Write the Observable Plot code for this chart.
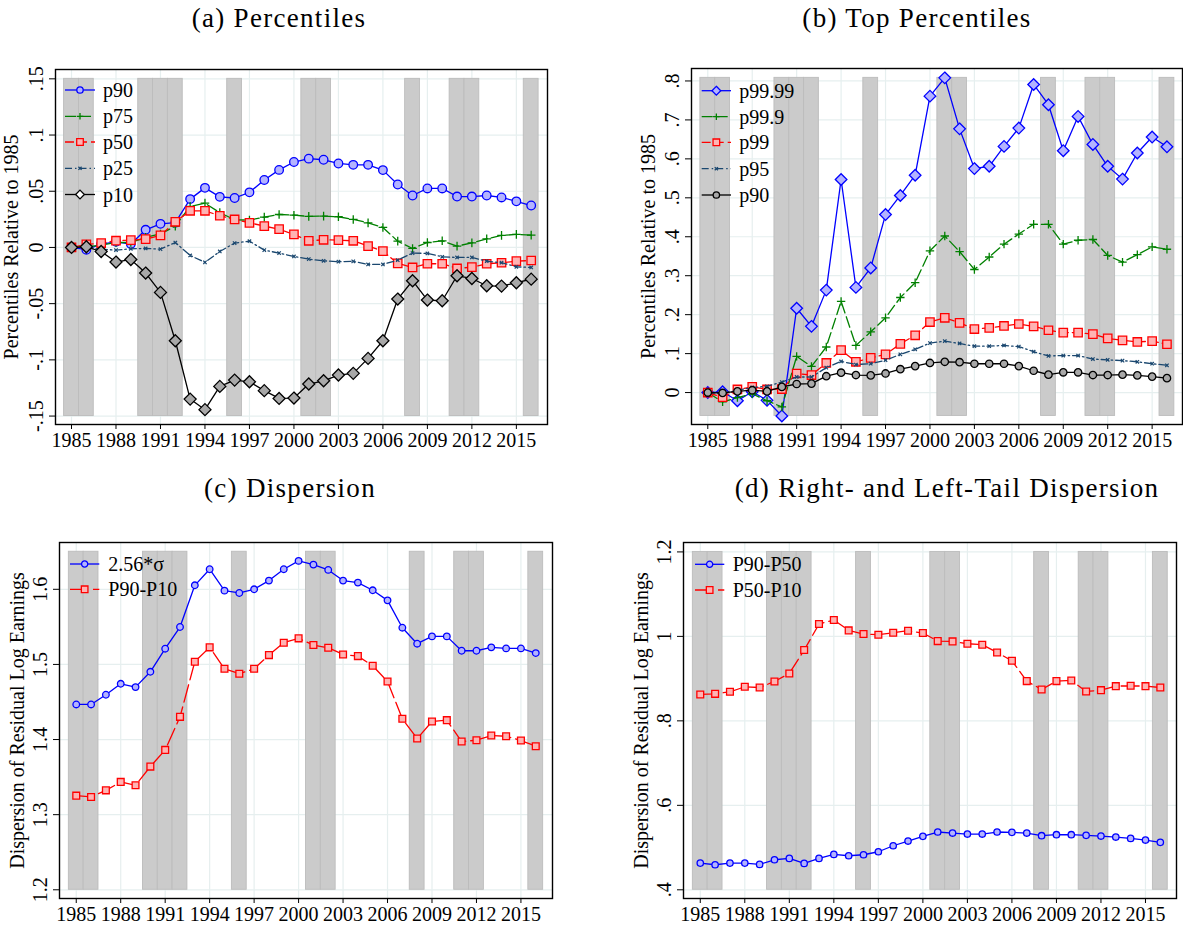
<!DOCTYPE html>
<html><head><meta charset="utf-8">
<script src="https://cdn.jsdelivr.net/npm/d3@7"></script>
<script src="https://cdn.jsdelivr.net/npm/@observablehq/plot@0.6"></script>
<style>
body{margin:0;background:#fff;}
#root{position:relative;width:1183px;height:930px;overflow:hidden;background:#fff;}
.panel{position:absolute;}
#overlay{position:absolute;left:0;top:0;pointer-events:none;}
</style></head><body><div id="root"></div>
<script>
// ---------- DATA ----------
const years = [1985,1986,1987,1988,1989,1990,1991,1992,1993,1994,1995,1996,1997,1998,1999,2000,
               2001,2002,2003,2004,2005,2006,2007,2008,2009,2010,2011,2012,2013,2014,2015,2016];
const recessionYears = [1985,1986,1990,1991,1992,1996,2001,2002,2008,2011,2012,2016];
const xTicks = [1985,1988,1991,1994,1997,2000,2003,2006,2009,2012,2015];

// (a) Percentiles
const a_p90 = [0,-0.002,0.003,0.005,0.003,0.0157,0.021,0.022,0.043,0.053,0.045,0.044,0.049,0.060,0.069,0.076,
               0.079,0.078,0.0747,0.0735,0.0735,0.0688,0.056,0.0462,0.0525,0.0525,0.0453,0.0453,0.0462,0.0445,0.041,0.0373];
const a_p75 = [0,0.0006,0.002,0.0044,0.0044,0.009,0.012,0.019,0.0365,0.0394,0.031,0.0246,0.0243,0.027,0.0293,0.0287,
               0.0276,0.0279,0.0273,0.0249,0.0219,0.0178,0.0056,-0.0009,0.0044,0.0059,0.0012,0.0041,0.0077,0.0107,0.0116,0.011];
const a_p50 = [0,0.0027,0.0039,0.006,0.0065,0.0074,0.0107,0.0228,0.0326,0.0326,0.0282,0.0249,0.0219,0.019,0.0163,0.0116,
               0.0059,0.0068,0.0065,0.0059,0.0012,-0.0033,-0.0142,-0.0178,-0.0145,-0.0145,-0.0187,-0.0175,-0.0145,-0.0136,-0.0122,-0.0116];
const a_p25 = [0,0,-0.0015,-0.0024,-0.0012,-0.0009,-0.0015,0.0044,-0.0071,-0.0133,-0.0036,0.0039,0.0056,-0.0024,-0.005,-0.008,
               -0.0104,-0.0119,-0.0127,-0.0124,-0.0151,-0.0151,-0.0113,-0.005,-0.0053,-0.0083,-0.0089,-0.0089,-0.0122,-0.0136,-0.0172,-0.0178];
const a_p10 = [0,0.0006,-0.0036,-0.013,-0.0107,-0.0228,-0.04,-0.083,-0.1349,-0.1443,-0.1236,-0.118,-0.1195,-0.1274,-0.1343,-0.134,
               -0.1215,-0.1186,-0.1135,-0.112,-0.0987,-0.083,-0.0459,-0.0296,-0.0468,-0.0474,-0.0252,-0.0276,-0.0341,-0.0344,-0.0314,-0.0282];
const a_yTicks = [-0.15,-0.1,-0.05,0,0.05,0.1,0.15];
const a_yTickLabels = ["-.15","-.1","-.05","0",".05",".1",".15"];
const a_barRange = [-0.15,0.15];

// (b) Top Percentiles
const b_p9999 = [0,0.002,-0.021,0.002,-0.02,-0.06,0.2165,0.170,0.263,0.547,0.270,0.320,0.457,0.506,0.558,0.761,
                 0.808,0.677,0.575,0.581,0.632,0.679,0.791,0.739,0.621,0.709,0.637,0.581,0.548,0.615,0.656,0.631];
const b_p999 = [0,-0.024,-0.013,-0.003,-0.021,-0.037,0.093,0.067,0.117,0.234,0.121,0.156,0.192,0.244,0.282,0.364,
                0.402,0.362,0.316,0.348,0.381,0.407,0.432,0.432,0.381,0.391,0.393,0.352,0.335,0.354,0.374,0.368];
const b_p99 = [0,-0.012,0.008,0.0145,0.008,0.009,0.049,0.045,0.076,0.109,0.079,0.089,0.098,0.125,0.147,0.181,
               0.192,0.179,0.163,0.166,0.171,0.176,0.170,0.160,0.154,0.154,0.150,0.139,0.134,0.130,0.132,0.124];
const b_p95 = [0,-0.003,0.006,0.013,0.016,0.027,0.040,0.040,0.064,0.080,0.072,0.074,0.083,0.098,0.111,0.127,
               0.132,0.126,0.119,0.119,0.121,0.118,0.105,0.094,0.095,0.095,0.086,0.084,0.082,0.079,0.074,0.070];
const b_p90 = [0,-0.001,0.003,0.006,0.003,0.0145,0.022,0.023,0.042,0.051,0.045,0.044,0.049,0.060,0.068,0.076,
               0.079,0.078,0.074,0.074,0.074,0.068,0.056,0.046,0.052,0.052,0.045,0.045,0.046,0.044,0.041,0.037];
const b_yTicks = [0,0.1,0.2,0.3,0.4,0.5,0.6,0.7,0.8];
const b_yTickLabels = ["0",".1",".2",".3",".4",".5",".6",".7",".8"];
const b_barRange = [-0.06,0.808];

// (c) Dispersion
const c_sd = [1.4467,1.4467,1.4596,1.4742,1.4698,1.4902,1.5209,1.5498,1.6053,1.6267,1.5982,1.5951,1.600,1.6116,1.6267,1.6378,
              1.6329,1.6258,1.6116,1.6089,1.5987,1.5853,1.5489,1.5276,1.5373,1.5373,1.5182,1.5182,1.5227,1.5213,1.5213,1.5151];
const c_p90p10 = [1.3253,1.3236,1.3324,1.3436,1.3391,1.364,1.3862,1.4302,1.5036,1.5227,1.4942,1.4876,1.4942,1.5124,1.5289,1.5347,
                  1.5258,1.5222,1.5133,1.5111,1.4982,1.4773,1.4276,1.4013,1.424,1.4258,1.3973,1.3991,1.4053,1.4044,1.3987,1.3911];
const c_yTicks = [1.2,1.3,1.4,1.5,1.6];
const c_yTickLabels = ["1.2","1.3","1.4","1.5","1.6"];
const c_barRange = [1.2,1.65];

// (d) Right- and Left-Tail Dispersion
const d_p90p50 = [0.4632,0.4593,0.4632,0.4632,0.4601,0.4711,0.4743,0.4625,0.4743,0.4838,0.4806,0.483,0.4901,0.5043,0.5154,0.5265,
                  0.5368,0.5344,0.532,0.532,0.5368,0.536,0.5344,0.5281,0.5304,0.5304,0.5289,0.5273,0.5249,0.5217,0.5178,0.5123];
const d_p50p10 = [0.8625,0.864,0.8688,0.8806,0.879,0.8933,0.9122,0.9676,1.0292,1.0387,1.0142,1.0055,1.004,1.0087,1.0134,1.0079,
                  0.9889,0.9881,0.9826,0.9802,0.962,0.9423,0.8941,0.8743,0.8941,0.8957,0.8696,0.8727,0.8822,0.883,0.8822,0.879];
const d_yTicks = [0.4,0.6,0.8,1,1.2];
const d_yTickLabels = [".4",".6",".8","1","1.2"];
const d_barRange = [0.4,1.2];

// ---------- STYLE ----------
const FONT = "'Liberation Serif', 'Times New Roman', serif";
const BLUE = "#0000ff", GREEN = "#008000", RED = "#ff0000", NAVY = "#1a476f", BLACK = "#000000";
const LBLUE = "#b3b3ff", PINK = "#ffb3b3", GRAY = "#a8a8a8";
const GRID = "#e6efef";

function makeSymbol(kind) {
  return {draw(ctx, size) {
    const r = Math.sqrt(size / Math.PI);
    if (kind === "circle") { ctx.moveTo(r, 0); ctx.arc(0, 0, r, 0, 2 * Math.PI); ctx.closePath(); }
    else if (kind === "square") { ctx.moveTo(-r,-r); ctx.lineTo(r,-r); ctx.lineTo(r,r); ctx.lineTo(-r,r); ctx.closePath(); }
    else if (kind === "diamond") { ctx.moveTo(0,-r); ctx.lineTo(r,0); ctx.lineTo(0,r); ctx.lineTo(-r,0); ctx.closePath(); }
    else if (kind === "plus") { ctx.moveTo(-r,0); ctx.lineTo(r,0); ctx.moveTo(0,-r); ctx.lineTo(0,r); }
    else if (kind === "times") { ctx.moveTo(-r,-r); ctx.lineTo(r,r); ctx.moveTo(-r,r); ctx.lineTo(r,-r); }
  }};
}
const SYM = {};
["circle","square","diamond","plus","times"].forEach(k => SYM[k] = makeSymbol(k));

const DASH_LONG = "11,4", DASH = "9,4", DASH_DOT = "7,3,1.5,3", DASH_CD = "18,5";

const panels = [
  {left:0, top:50, width:591, height:420, margin:[19,44,46,55], xDomain:[1983.92,2017.1], yDomain:[-0.1575,0.1583],
   yTicks:a_yTicks, yTickLabels:a_yTickLabels, bar:a_barRange, yLabel:"Percentiles Relative to 1985", labelOffset:52,
   title:"(a) Percentiles", titleX:279, titleY:27,
   legend:{x0:65, x1:95, tx:103, rows:[90,116.3,142,168.3,194.5]},
   series:[
     {name:"p90", values:a_p90, color:BLUE, dash:null, sym:"circle", r:4.3, fill:LBLUE, lr:3.2, lfill:LBLUE},
     {name:"p75", values:a_p75, color:GREEN, dash:DASH_LONG, sym:"plus", r:4.3, fill:"none", lr:3.3, lfill:"none"},
     {name:"p50", values:a_p50, color:RED, dash:DASH, sym:"square", r:4.2, fill:PINK, lr:3.3, lfill:PINK},
     {name:"p25", values:a_p25, color:NAVY, dash:DASH_DOT, sym:"times", r:1.7, fill:"none", lr:1.6, lfill:"none"},
     {name:"p10", values:a_p10, color:BLACK, dash:null, sym:"diamond", r:6, fill:GRAY, lr:4.4, lfill:"#ffffff"}
   ]},
  {left:591, top:50, width:592, height:420, margin:[18,1,46,100], xDomain:[1983.9,2017.05], yDomain:[-0.082,0.832],
   yTicks:b_yTicks, yTickLabels:b_yTickLabels, bar:b_barRange, yLabel:"Percentiles Relative to 1985", labelOffset:51,
   title:"(b) Top Percentiles", titleX:917, titleY:27,
   legend:{x0:701.7, x1:731, tx:739.3, rows:[90.7,116.7,142.3,168.7,195]},
   series:[
     {name:"p99.99", values:b_p9999, color:BLUE, dash:null, sym:"diamond", r:5.8, fill:LBLUE, lr:4.4, lfill:LBLUE},
     {name:"p99.9", values:b_p999, color:GREEN, dash:DASH_LONG, sym:"plus", r:4.2, fill:"none", lr:3.3, lfill:"none"},
     {name:"p99", values:b_p99, color:RED, dash:DASH, sym:"square", r:4.2, fill:PINK, lr:3.3, lfill:PINK},
     {name:"p95", values:b_p95, color:NAVY, dash:DASH_DOT, sym:"times", r:1.7, fill:"none", lr:1.6, lfill:"none"},
     {name:"p90", values:b_p90, color:BLACK, dash:null, sym:"circle", r:3.7, fill:GRAY, lr:3.2, lfill:GRAY}
   ]},
  {left:0, top:520, width:591, height:410, margin:[22,39,32,59], xDomain:[1983.87,2017.13], yDomain:[1.1884,1.6623],
   yTicks:c_yTicks, yTickLabels:c_yTickLabels, bar:c_barRange, yLabel:"Dispersion of Residual Log Earnings", labelOffset:50,
   title:"(c) Dispersion", titleX:290, titleY:497,
   legend:{x0:70, x1:99.3, tx:108.3, rows:[564,589.3]},
   series:[
     {name:"2.56*σ", values:c_sd, color:BLUE, dash:null, sym:"circle", r:3.3, fill:LBLUE, lr:3.1, lfill:LBLUE},
     {name:"P90-P10", values:c_p90p10, color:RED, dash:DASH_CD, sym:"square", r:3.4, fill:PINK, lr:3.3, lfill:PINK}
   ]},
  {left:591, top:520, width:592, height:410, margin:[22,7,32,92], xDomain:[1983.87,2017.09], yDomain:[0.3794,1.2223],
   yTicks:d_yTicks, yTickLabels:d_yTickLabels, bar:d_barRange, yLabel:"Dispersion of Residual Log Earnings", labelOffset:50,
   title:"(d) Right- and Left-Tail Dispersion", titleX:947, titleY:497,
   legend:{x0:695, x1:724.3, tx:732.7, rows:[564.3,590]},
   series:[
     {name:"P90-P50", values:d_p90p50, color:BLUE, dash:null, sym:"circle", r:3.2, fill:LBLUE, lr:3.1, lfill:LBLUE},
     {name:"P50-P10", values:d_p50p10, color:RED, dash:DASH_CD, sym:"square", r:3.4, fill:PINK, lr:3.3, lfill:PINK}
   ]}
];

const root = document.getElementById("root");

panels.forEach(p => {
  const labelMap = new Map(p.yTicks.map((t, i) => [t, p.yTickLabels[i]]));
  const marks = [
    Plot.gridX(xTicks, {stroke: GRID, strokeOpacity: 1, strokeWidth: 1.2}),
    Plot.gridY(p.yTicks, {stroke: GRID, strokeOpacity: 1, strokeWidth: 1.2}),
    Plot.rect(recessionYears, {x1: d => d - 0.5, x2: d => d + 0.5, y1: () => p.bar[0], y2: () => p.bar[1],
      fill: "#cbcbcb", stroke: "#bcbcbc", strokeWidth: 0.9})
  ];
  p.series.forEach(s => {
    const data = years.map((yr, i) => ({year: yr, v: s.values[i]}));
    marks.push(Plot.line(data, {x: "year", y: "v", stroke: s.color, strokeWidth: 1.3,
      strokeDasharray: s.dash || undefined}));
    marks.push(Plot.dot(data, {x: "year", y: "v", symbol: SYM[s.sym], r: s.r,
      fill: s.fill, stroke: s.color, strokeWidth: s.sym === "times" ? 1.2 : 1.3}));
  });
  marks.push(
    Plot.axisX(xTicks, {tickSize: 5, tickPadding: 3, tickFormat: d => String(d), label: null}),
    Plot.axisY(p.yTicks, {tickSize: 6, tickPadding: 7, tickRotate: -90, tickFormat: d => labelMap.get(d),
      label: p.yLabel, labelAnchor: "center", labelOffset: p.labelOffset, labelArrow: "none"}),
    Plot.frame({stroke: "#000", strokeWidth: 1.4})
  );
  const svg = Plot.plot({
    width: p.width, height: p.height,
    marginTop: p.margin[0], marginRight: p.margin[1], marginBottom: p.margin[2], marginLeft: p.margin[3],
    x: {type: "linear", domain: p.xDomain},
    y: {type: "linear", domain: p.yDomain},
    style: {fontFamily: FONT, fontSize: "20px", color: "#000", background: "transparent", overflow: "visible"},
    marks
  });
  svg.classList.add("panel");
  svg.style.left = p.left + "px";
  svg.style.top = p.top + "px";
  svg.style.position = "absolute";
  root.appendChild(svg);
});

// ---------- overlay: titles and legends ----------
const ov = d3.select(root).append("svg").attr("id", "overlay").attr("width", 1183).attr("height", 930);
panels.forEach(p => {
  ov.append("text").attr("x", p.titleX).attr("y", p.titleY).attr("text-anchor", "middle")
    .attr("font-family", FONT).attr("font-size", 27).attr("letter-spacing", 1.3).attr("fill", "#000").text(p.title);
  const L = p.legend;
  p.series.forEach((s, i) => {
    const y = L.rows[i];
    const g = ov.append("g");
    g.append("line").attr("x1", L.x0).attr("x2", L.x1).attr("y1", y).attr("y2", y)
      .attr("stroke", s.color).attr("stroke-width", 1.3).attr("stroke-dasharray", s.dash || null);
    const xm = (L.x0 + L.x1) / 2;
    g.append("path").attr("transform", `translate(${xm},${y})`)
      .attr("d", d3.symbol(SYM[s.sym], Math.PI * s.lr * s.lr)())
      .attr("fill", s.lfill).attr("stroke", s.color).attr("stroke-width", 1.3);
    g.append("text").attr("x", L.tx).attr("y", y).attr("dy", "0.35em")
      .attr("font-family", FONT).attr("font-size", 20).attr("fill", "#000").text(s.name);
  });
});
</script></body></html>
